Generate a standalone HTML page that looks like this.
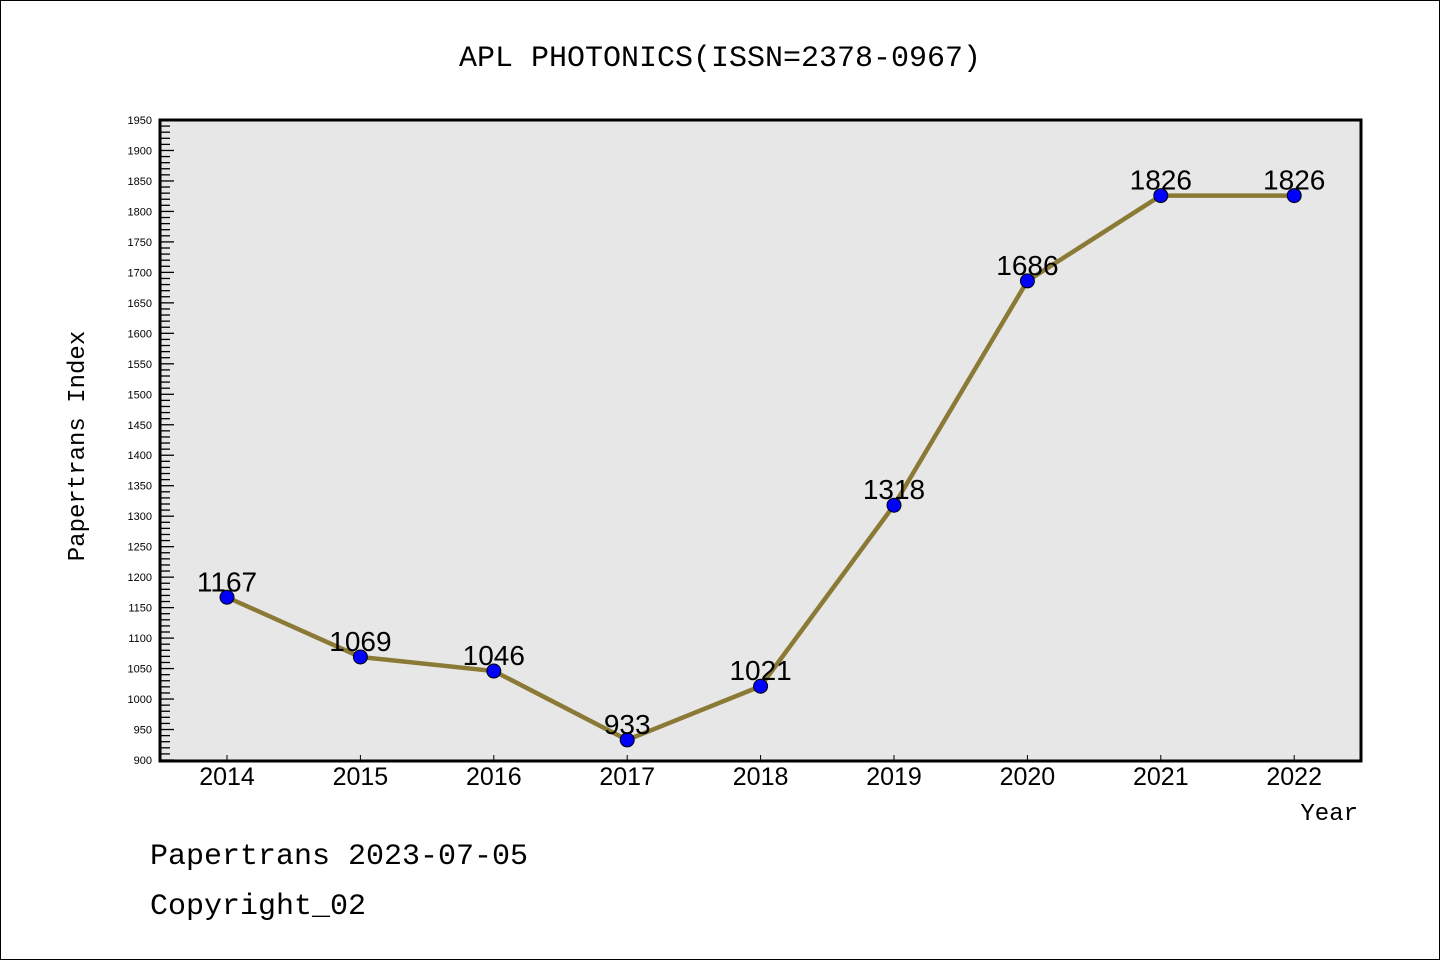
<!DOCTYPE html>
<html><head><meta charset="utf-8"><style>
body{margin:0;background:#fff}
svg{display:block;font-family:"Liberation Mono","DejaVu Sans Mono",monospace}
</style></head><body>
<svg width="1440" height="960" id="c">
<rect x="0.5" y="0.5" width="1439" height="959" fill="#fff" stroke="#000"/>
<text x="720" y="66" text-anchor="middle" font-size="30">APL PHOTONICS(ISSN=2378-0967)</text>
<rect x="160" y="120" width="1201" height="641" fill="#e7e7e7"/>
<g id="ticks"></g>
<g id="series"></g>
<rect x="160" y="120" width="1201" height="641" fill="none" stroke="#000" stroke-width="3"/>
<text x="84" y="446" font-size="24" text-anchor="middle" transform="rotate(-90 84 446)">Papertrans Index</text>
<text x="1358" y="820" font-size="24" text-anchor="end">Year</text>
<text x="150" y="864" font-size="30">Papertrans 2023-07-05</text>
<text x="150" y="914" font-size="30">Copyright_02</text>
</svg>
<script>
const years=[2014,2015,2016,2017,2018,2019,2020,2021,2022];
const values=[1167,1069,1046,933,1021,1318,1686,1826,1826];
const yMin=900,yMax=1950;
const NS="http://www.w3.org/2000/svg";
const xs=y=>227+(y-2014)*133.4;
const ys=v=>760-(v-yMin)*(640/(yMax-yMin));
function el(t,a,p){const e=document.createElementNS(NS,t);for(const k in a)e.setAttribute(k,a[k]);p.appendChild(e);return e;}
const tg=document.getElementById('ticks');
for(let v=yMin;v<=yMax;v+=10){
 const major=v%50===0;
 const l=el('line',{x1:160,x2:160+(major?14:10),y1:ys(v),y2:ys(v),stroke:'#000','stroke-width':1.3},tg);
 
 
 if(major){const t=el('text',{x:152,y:ys(v)+4,'text-anchor':'end','font-size':11,'font-family':'Liberation Sans, sans-serif'},tg);t.textContent=v;
 
 }
}
years.forEach(y=>{
 const l=el('line',{x1:xs(y),x2:xs(y),y1:761,y2:755,stroke:'#000','stroke-width':1},tg);
 
 
 const t=el('text',{x:xs(y),y:785,'text-anchor':'middle','font-size':25,'font-family':'Liberation Sans, sans-serif'},tg);t.textContent=y;
 
 
});
const sg=document.getElementById('series');
const pl=el('polyline',{points:years.map((y,i)=>xs(y)+','+ys(values[i])).join(' '),fill:'none',stroke:'#8b7a35','stroke-width':4.5},sg);


years.forEach((y,i)=>{
 const c=el('circle',{cx:xs(y),cy:ys(values[i]),r:7,fill:'#0000ff',stroke:'#000','stroke-width':1},sg);
 
 
 const t=el('text',{x:xs(y),y:ys(values[i])-6,'text-anchor':'middle','font-size':28,'font-family':'Liberation Sans, sans-serif'},sg);t.textContent=values[i];
 
 
});
</script>
</body></html>
